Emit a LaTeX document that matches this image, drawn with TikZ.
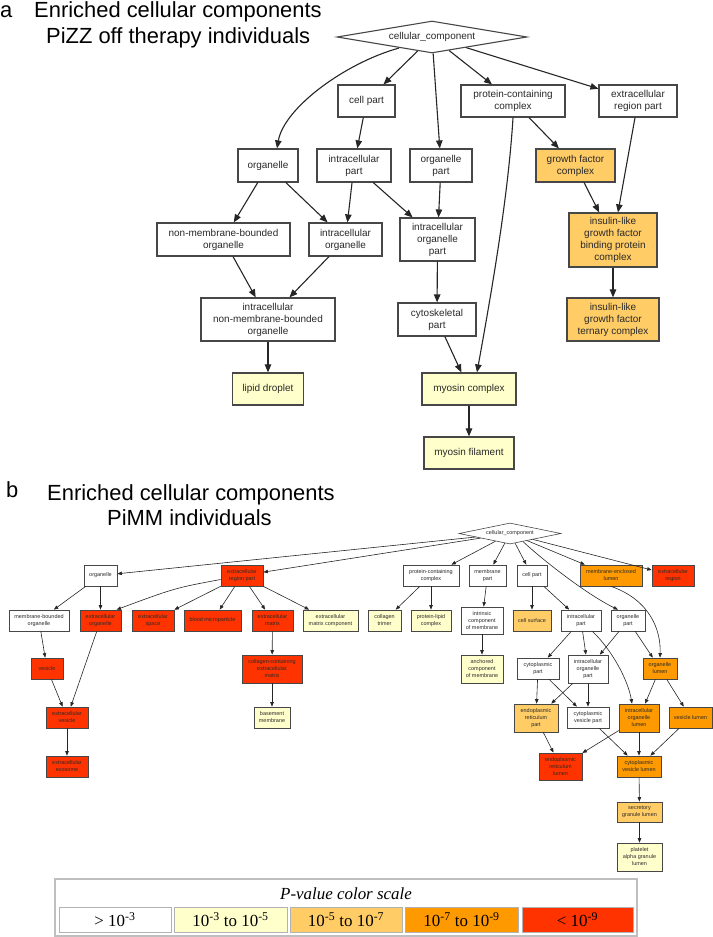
\documentclass[tikz,border=0pt]{standalone}
\usepackage{fontspec}
\setmainfont{Liberation Sans}
\newfontfamily\legfont{Liberation Serif}
\usetikzlibrary{arrows.meta,shapes.geometric}
\definecolor{pyel}{HTML}{FFFFCC}
\definecolor{lorg}{HTML}{FFCC66}
\definecolor{org}{HTML}{FF9900}
\definecolor{redo}{HTML}{FF3300}
\definecolor{txtc}{HTML}{2A2A2A}
\begin{document}
\begin{tikzpicture}[x=1bp,y=-1bp,
  sz/.style 2 args={minimum width=#1bp, minimum height=#2bp},
  title/.style={font=\fontsize{22}{26}\selectfont, inner sep=0pt, anchor=base west},
  boxA/.style={draw=black!72, line width=1.2bp, fill=white, align=center, inner sep=0pt,
               text=txtc, font=\fontsize{10}{12}\selectfont},
  diaA/.style={diamond, aspect=5.9, draw=black!72, line width=1.1bp, fill=white, inner sep=0pt,
               text=txtc, font=\fontsize{10}{12}\selectfont},
  boxB/.style={draw=black!72, line width=0.7bp, fill=white, align=center, inner sep=0pt,
               text=txtc, font=\fontsize{5.5}{7}\selectfont},
  diaB/.style={diamond, aspect=4.85, draw=black!72, line width=0.6bp, fill=white, inner sep=0pt,
               text=txtc, font=\fontsize{5.5}{7}\selectfont},
  arrA/.style={draw=black!85, line width=1.1bp, -{Triangle[length=8bp,width=6.5bp]}},
  arrB/.style={draw=black!85, line width=0.6bp, -{Triangle[length=4.5bp,width=3.5bp]}},
  legcell/.style={draw=black!30, line width=0.6bp, inner sep=0pt, minimum height=25bp,
                  font=\legfont\fontsize{17}{19}\selectfont},
  sup/.style={},
]
\useasboundingbox (0,0) rectangle (713,937);

% ---------------- titles ----------------
\node[title] (la) at (0,17.5) {a};
\node[title] (ta1) at (34,17.5) {Enriched cellular components};
\node[title] (ta2) at (46,43.5) {PiZZ off therapy individuals};
\node[title] (lb) at (6,497) {b};
\node[title] (tb1) at (47,500) {Enriched cellular components};
\node[title] (tb2) at (107,525.5) {PiMM individuals};

% ---------------- part a ----------------
\node[diaA, sz={190}{32}] (dA) at (432,37) {cellular\_component};
\node[boxA, sz={57}{32}] (a1) at (366.5,101) {cell part};
\node[boxA, sz={104}{32}] (a2) at (513,101) {protein-containing\\complex};
\node[boxA, sz={78}{32}] (a3) at (638,101) {extracellular\\region part};
\node[boxA, sz={60}{33}] (a4) at (268,165.5) {organelle};
\node[boxA, sz={74}{33}] (a5) at (354,165.5) {intracellular\\part};
\node[boxA, sz={62}{33}] (a6) at (441,165.5) {organelle\\part};
\node[boxA, sz={79}{33}, fill=lorg] (a7) at (575.5,165.5) {growth factor\\complex};
\node[boxA, sz={88}{54}, fill=lorg] (a8) at (613,240) {insulin-like\\growth factor\\binding protein\\complex};
\node[boxA, sz={133}{33}] (a9) at (223.5,239.5) {non-membrane-bounded\\organelle};
\node[boxA, sz={73}{33}] (a10) at (345.5,239.5) {intracellular\\organelle};
\node[boxA, sz={75}{43}] (a11) at (437.5,239.5) {intracellular\\organelle\\part};
\node[boxA, sz={134}{43}] (a12) at (268,319.5) {intracellular\\non-membrane-bounded\\organelle};
\node[boxA, sz={78}{33}] (a13) at (437,319.5) {cytoskeletal\\part};
\node[boxA, sz={92}{43}, fill=lorg] (a14) at (613,319.5) {insulin-like\\growth factor\\ternary complex};
\node[boxA, sz={71}{32}, fill=pyel] (a15) at (268,389) {lipid droplet};
\node[boxA, sz={94}{32}, fill=pyel] (a16) at (469,389) {myosin complex};
\node[boxA, sz={90}{32}, fill=pyel] (a17) at (469,453) {myosin filament};

\draw[arrA] (dA) -- (a1);
\draw[arrA] (dA) -- (a2);
\draw[arrA] (dA) -- (a3);
\draw[arrA] (dA) -- (a6);
\draw[arrA] ([xshift=-33bp,yshift=5.5bp]dA.south) .. controls (345,63) and (284,108) .. ([xshift=9bp]a4.north);
\draw[arrA] (a1) -- (a5);
\draw[arrA] (a2) -- (a7);
\draw[arrA] (a2.south) .. controls (508,200) and (490,300) .. ([xshift=8bp]a16.north);
\draw[arrA] (a3) -- (a8);
\draw[arrA] (a4) -- (a9);
\draw[arrA] (a4) -- (a10);
\draw[arrA] (a5) -- (a10);
\draw[arrA] (a5) -- (a11);
\draw[arrA] (a6) -- (a11);
\draw[arrA] (a7) -- (a8);
\draw[arrA] (a9) -- (a12);
\draw[arrA] (a10) -- (a12);
\draw[arrA] (a11) -- (a13);
\draw[arrA] (a8) -- (a14);
\draw[arrA] (a12) -- (a15);
\draw[arrA] (a13) -- (a16);
\draw[arrA] (a16) -- (a17);

% ---------------- part b ----------------
\node[diaB, sz={102}{21}] (dB) at (510,533.5) {cellular\_component};
\node[boxB, sz={33}{21}] (b1) at (100.5,575.5) {organelle};
\node[boxB, sz={42}{21}, fill=redo] (b2) at (242,575.5) {extracellular\\region part};
\node[boxB, sz={56}{21}] (b3) at (431,575.5) {protein-containing\\complex};
\node[boxB, sz={37}{21}] (b4) at (487.5,575.5) {membrane\\part};
\node[boxB, sz={30}{21}] (b5) at (532,575.5) {cell part};
\node[boxB, sz={62}{21}, fill=org] (b6) at (611,575.5) {membrane-enclosed\\lumen};
\node[boxB, sz={42}{21}, fill=redo] (b7) at (673,575.5) {extracellular\\region};
\node[boxB, sz={60}{21}] (b8) at (39,620.5) {membrane-bounded\\organelle};
\node[boxB, sz={41}{21}, fill=redo] (b9) at (100.5,620.5) {extracellular\\organelle};
\node[boxB, sz={42}{21}, fill=redo] (b10) at (153,620.5) {extracellular\\space};
\node[boxB, sz={57}{21}, fill=redo] (b11) at (212.5,620.5) {blood microparticle};
\node[boxB, sz={41}{21}, fill=redo] (b12) at (272.5,620.5) {extracellular\\matrix};
\node[boxB, sz={55}{21}, fill=pyel] (b13) at (330.5,620.5) {extracellular\\matrix component};
\node[boxB, sz={33}{21}, fill=pyel] (b14) at (384.5,620.5) {collagen\\trimer};
\node[boxB, sz={40}{21}, fill=pyel] (b15) at (431,620.5) {protein-lipid\\complex};
\node[boxB, sz={42}{27}] (b16) at (482,620.5) {intrinsic\\component\\of membrane};
\node[boxB, sz={38}{21}, fill=lorg] (b17) at (532,620.5) {cell surface};
\node[boxB, sz={40}{21}] (b18) at (581,620.5) {intracellular\\part};
\node[boxB, sz={34}{21}] (b19) at (628,620.5) {organelle\\part};
\node[boxB, sz={32}{21}, fill=redo] (b20) at (47,668.5) {vesicle};
\node[boxB, sz={60}{28}, fill=redo] (b21) at (272,669) {collagen-containing\\extracellular\\matrix};
\node[boxB, sz={42}{28}, fill=pyel] (b22) at (482,669) {anchored\\component\\of membrane};
\node[boxB, sz={42}{21}] (b23) at (538,668.5) {cytoplasmic\\part};
\node[boxB, sz={40}{28}] (b24) at (588,669) {intracellular\\organelle\\part};
\node[boxB, sz={34}{21}, fill=org] (b25) at (660,668.5) {organelle\\lumen};
\node[boxB, sz={42}{21}, fill=redo] (b26) at (67,717.5) {extracellular\\vesicle};
\node[boxB, sz={36}{21}, fill=pyel] (b27) at (272,717.5) {basement\\membrane};
\node[boxB, sz={44}{28}, fill=lorg] (b28) at (536,718) {endoplasmic\\reticulum\\part};
\node[boxB, sz={42}{21}] (b29) at (588,717.5) {cytoplasmic\\vesicle part};
\node[boxB, sz={40}{28}, fill=org] (b30) at (639,718) {intracellular\\organelle\\lumen};
\node[boxB, sz={43}{21}, fill=org] (b31) at (690.5,717.5) {vesicle lumen};
\node[boxB, sz={42}{21}, fill=redo] (b32) at (67,766.5) {extracellular\\exosome};
\node[boxB, sz={43}{27}, fill=redo] (b33) at (560.5,766.5) {endoplasmic\\reticulum\\lumen};
\node[boxB, sz={44}{21}, fill=org] (b34) at (639,766.5) {cytoplasmic\\vesicle lumen};
\node[boxB, sz={45}{20}, fill=lorg] (b35) at (639.5,812) {secretory\\granule lumen};
\node[boxB, sz={45}{28}, fill=pyel] (b36) at (639.5,857) {platelet\\alpha granule\\lumen};

\draw[arrB] (dB) -- (b1);
\draw[arrB] (dB) -- (b2);
\draw[arrB] (dB) -- (b3);
\draw[arrB] (dB) -- (b4);
\draw[arrB] (dB) -- (b5);
\draw[arrB] (dB) -- (b6);
\draw[arrB] (dB) -- (b7);
\draw[arrB] ([xshift=13bp,yshift=2.7bp]dB.south) .. controls (545,562) and (588,595) .. ([xshift=-10bp]b19.north);
\draw[arrB] (b1) -- (b8);
\draw[arrB] (b1) -- (b9);
\draw[arrB] (b2) .. controls (175,588) .. ([xshift=16bp]b9.north);
\draw[arrB] (b2) -- (b10);
\draw[arrB] (b2) -- (b11);
\draw[arrB] (b2) -- (b12);
\draw[arrB] (b2) -- (b13);
\draw[arrB] (b12) -- (b21);
\draw[arrB] (b21) -- (b27);
\draw[arrB] (b8) -- (b20);
\draw[arrB] (b20) -- (b26);
\draw[arrB] (b9) -- (b26);
\draw[arrB] (b26) -- (b32);
\draw[arrB] (b3) -- (b14);
\draw[arrB] (b3) -- (b15);
\draw[arrB] (b4) -- (b16);
\draw[arrB] (b16) -- (b22);
\draw[arrB] (b5) -- (b17);
\draw[arrB] (b5) -- (b18);
\draw[arrB] (b6.south) .. controls (650,600) and (661,630) .. (b25.north);
\draw[arrB] (b18) -- (b23);
\draw[arrB] (b18) -- (b24);
\draw[arrB] (b18) .. controls (612,650) and (628,680) .. ([xshift=-7bp]b30.north);
\draw[arrB] (b19) -- (b24);
\draw[arrB] (b19) -- (b25);
\draw[arrB] (b23) -- (b28);
\draw[arrB] (b23) -- (b29);
\draw[arrB] (b24) -- (b28);
\draw[arrB] (b24) -- (b29);
\draw[arrB] (b25) -- (b30);
\draw[arrB] (b25) -- (b31);
\draw[arrB] (b28) -- (b33);
\draw[arrB] (b30) -- (b33);
\draw[arrB] (b29) -- (b34);
\draw[arrB] (b30) -- (b34);
\draw[arrB] (b31) -- (b34);
\draw[arrB] (b34) -- (b35);
\draw[arrB] (b35) -- (b36);

% ---------------- legend ----------------
\node[draw=black!25, line width=1.6bp, fill=white, inner sep=0pt,
      minimum width=582bp, minimum height=57bp] (leg) at (346,907.5) {};
\node[font=\legfont\itshape\fontsize{17}{19}\selectfont, inner sep=0pt] (legt) at (346,894) {P-value color scale};
\node[legcell, fill=white, minimum width=112bp] (c1) at (115,919.5) {> 10\textsuperscript{-3}};
\node[legcell, fill=pyel, minimum width=113bp] (c2) at (230.5,919.5) {10\textsuperscript{-3} to 10\textsuperscript{-5}};
\node[legcell, fill=lorg, minimum width=112bp] (c3) at (346,919.5) {10\textsuperscript{-5} to 10\textsuperscript{-7}};
\node[legcell, fill=org, minimum width=113bp] (c4) at (461.5,919.5) {10\textsuperscript{-7} to 10\textsuperscript{-9}};
\node[legcell, fill=redo, minimum width=111bp] (c5) at (577.5,919.5) {< 10\textsuperscript{-9}};
\end{tikzpicture}
\end{document}
